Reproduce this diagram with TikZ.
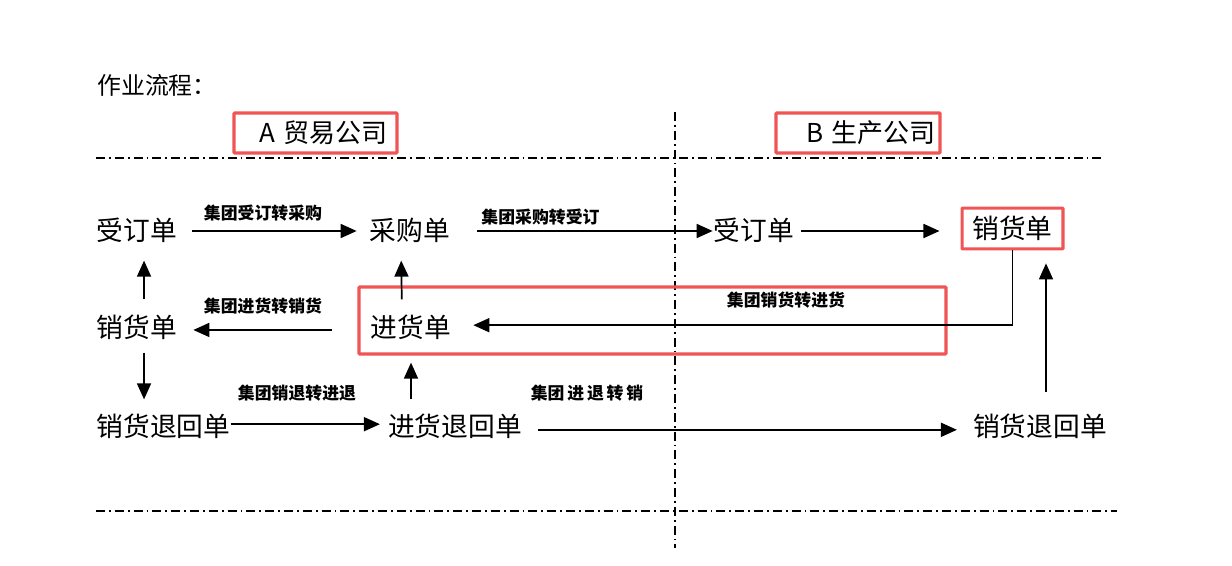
\documentclass[tikz,border=0pt]{standalone}
\usepackage{fontspec}
\setmainfont{Noto Sans CJK SC}
\usetikzlibrary{arrows.meta,calc}
\definecolor{hlred}{RGB}{240,84,84}
\begin{document}
\begin{tikzpicture}[x=0.25mm,y=-0.25mm,
	doc/.style={inner sep=0pt,font=\fontsize{19pt}{22pt}\selectfont,text height=16.5pt,text depth=2.5pt},
	lab/.style={inner sep=0pt,font=\fontsize{12pt}{14pt}\selectfont\bfseries},
	arr/.style={line width=1.2pt,-{Triangle[length=4mm,width=3.5mm]}},
	sep/.style={line width=1.4pt,dash pattern=on 2.25mm off 1mm on 0.45mm off 1mm},
	hl/.style={draw=hlred,line width=2.2pt,rounded corners=0.5pt},
	cobox/.style={hl,inner ysep=0pt,minimum height=1cm,align=right,font=\fontsize{18.5pt}{22pt}\selectfont}]
		\useasboundingbox (0,0) rectangle (1232,566);
		% frame lines
		\draw[sep] (96,158) -- (1103,158);
		\draw[sep] (96,511) -- (1117,511);
		\draw[sep] (675,112) -- (675,548);
		\node[inner sep=0pt,anchor=west,font=\fontsize{17pt}{20pt}\selectfont] (title) at (97,85) {作业流程：};
		\node[cobox,inner xsep=2.25mm,text width=3.625cm] (coA) at (315.5,133) {A 贸易公司};
		\node[cobox,inner xsep=1mm,text width=3.9cm] (coB) at (858,133) {B 生产公司};
		% documents
		\node[doc] (sdL) at (137,231) {受订单};
		\node[doc] (cgd) at (410,231) {采购单};
		\node[doc] (sdR) at (754,231) {受订单};
		\node[doc,hl,inner xsep=2.6mm,inner ysep=1.75mm] (xhdR) at (1012.5,228.5) {销货单};
		\node[doc] (xhdL) at (137,328) {销货单};
		\node[doc] (jhd) at (411,328) {进货单};
		\node[doc] (xhthL) at (163.5,427) {销货退回单};
		\node[doc] (jhthL) at (455,427) {进货退回单};
		\node[doc] (xhthR) at (1040,427) {销货退回单};
		\draw[hl] (359,287) rectangle (946,354);
		% flows
		\draw[arr,shorten <=3.75mm,shorten >=3.25mm] (sdL.east) -- (cgd.west);
		\draw[arr,shorten <=6.75mm,shorten >=0.25mm] (cgd.east) -- (sdR.west);
		\draw[arr,shorten <=1.75mm,shorten >=5.25mm] (sdR.east) -- (sdR.east -| xhdR.west);
		\draw[arr,shorten >=5.5mm] (xhdR.south) |- ([yshift=2pt]jhd.east);
		\draw[arr,shorten <=9.75mm,shorten >=4mm] ([yshift=-1.4pt]jhd.west) -- ([yshift=-1.4pt]xhdL.east);
		\draw[arr,shorten <=3.75mm,shorten >=4mm] ([xshift=-6.4pt]jhd.north) -- ([xshift=-6.4pt]cgd.south);
		\draw[arr,shorten <=3.75mm,shorten >=4mm] ([xshift=5pt]xhdL.north) -- ([xshift=5pt]sdL.south);
		\draw[arr,shorten <=2.75mm,shorten >=3.5mm] ([xshift=5pt]xhdL.south) -- ([xshift=5pt]xhdL.south |- xhthL.north);
		\draw[arr,shorten >=2mm] ([yshift=2pt]xhthL.east) -- ([yshift=2pt]jhthL.west);
		\draw[arr,shorten <=3.5mm,shorten >=5.25mm] (jhthL.north -| jhd) -- (jhd.south);
		\draw[arr,shorten <=4mm,shorten >=4mm] ([yshift=-2pt]jhthL.east) -- ([yshift=-2pt]xhthR.west);
		\draw[arr,shorten <=5.25mm,shorten >=3.25mm] ($(xhthR.north)+(6,0)$) -- ($(xhthR.north |- xhdR.south)+(6,0)$);
		% labels
		\node[lab] (l1) at (263,213) {集团受订转采购};
		\node[lab] (l2) at (540.5,217) {集团采购转受订};
		\node[lab] (l3) at (786,300) {集团销货转进货};
		\node[lab] (l4) at (263,306) {集团进货转销货};
		\node[lab] (l5) at (297,393) {集团销退转进退};
		\node[lab] (l6) at (587,393) {集团\,进\,退\,转\,销};
\end{tikzpicture}
\end{document}
